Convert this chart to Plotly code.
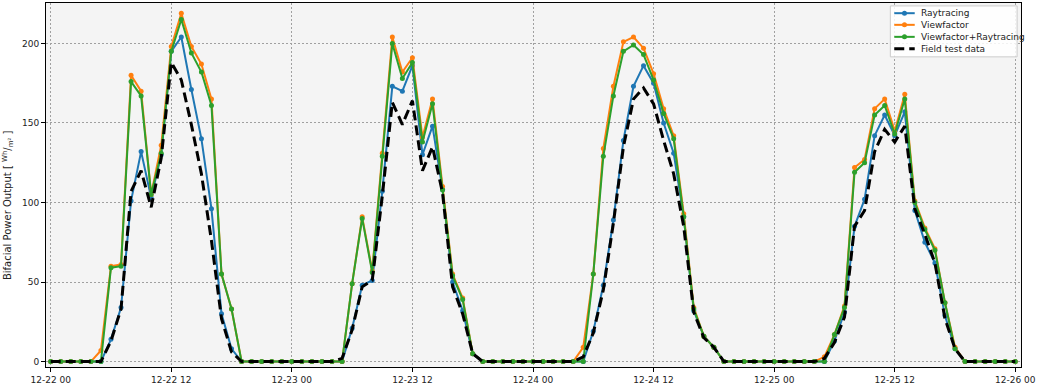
import pandas as pd
import plotly.graph_objects as go

times = pd.date_range("2022-12-22 00:00", "2022-12-26 00:00", freq="h")

Z5 = [0, 0, 0, 0, 0]
Z = [0, 0, 0, 0, 0]

raytracing = (
    Z5 + [0, 14, 34, 101, 132, 103, 130, 195, 204, 171, 140, 96, 30, 8] + Z
    + Z5 + [0, 21, 48, 51, 107, 173, 170, 186, 130, 148, 108, 50, 32, 5] + Z
    + Z5 + [0, 19, 48, 89, 139, 173, 186, 175, 150, 131, 91, 32, 16, 9] + Z
    + Z5 + [0, 13, 31, 85, 102, 142, 155, 142, 157, 95, 75, 62, 29, 8] + Z
    + [0]
)
viewfactor = (
    Z5 + [7, 60, 61, 180, 170, 105, 136, 198, 219, 198, 187, 165, 55, 33] + Z
    + Z5 + [0, 49, 91, 57, 131, 204, 182, 191, 141, 165, 110, 55, 40, 5] + Z
    + Z5 + [9, 55, 134, 173, 201, 204, 197, 181, 159, 142, 93, 34, 16, 9] + Z
    + Z5 + [3, 17, 35, 122, 127, 159, 165, 145, 168, 101, 84, 71, 37, 9] + Z
    + [0]
)
combined = (
    Z5 + [0, 59, 60, 176, 167, 105, 131, 195, 215, 194, 182, 161, 55, 33] + Z
    + Z5 + [0, 49, 90, 56, 129, 200, 178, 188, 138, 162, 108, 54, 39, 5] + Z
    + Z5 + [0, 55, 129, 167, 195, 199, 193, 177, 156, 140, 91, 33, 16, 9] + Z
    + Z5 + [0, 17, 34, 119, 125, 155, 161, 143, 165, 100, 83, 70, 37, 8] + Z
    + [0]
)
field = (
    Z5 + [0, 13, 33, 107, 120, 97, 128, 188, 177, 149, 118, 76, 27, 6] + Z
    + Z5 + [2, 20, 47, 51, 104, 163, 149, 164, 120, 135, 106, 47, 30, 5] + Z
    + Z5 + [3, 18, 45, 87, 135, 165, 172, 162, 139, 118, 85, 31, 15, 9] + Z
    + Z5 + [2, 12, 28, 85, 95, 132, 146, 138, 148, 96, 80, 62, 27, 8] + Z
    + [0]
)

names = ["Raytracing", "Viewfactor", "Viewfactor+Raytracing", "Field test data"]
colors = ["#1f77b4", "#ff7f0e", "#2ca02c", "black"]
y_title = "Bifacial Power Output [ <sup>Wh</sup>/<sub>m²</sub> ]"

fig = go.Figure()
for name, vals, col in zip(names[:3], [raytracing, viewfactor, combined], colors[:3]):
    fig.add_trace(go.Scatter(
        x=times, y=vals, name=name, mode="lines+markers",
        line=dict(color=col, width=2), marker=dict(color=col, size=5),
    ))
fig.add_trace(go.Scatter(
    x=times, y=field, name=names[3], mode="lines",
    line=dict(color="black", width=3, dash="10px,5px"),
))

font = dict(family="DejaVu Sans", size=9, color="#222")

# custom compact legend (matplotlib-like)
fig.add_shape(type="rect", xref="paper", yref="paper",
              x0=0.866, x1=0.996, y0=0.852, y1=0.992,
              fillcolor="rgba(255,255,255,0.85)", line=dict(color="#cccccc", width=1))
row_y = [0.972, 0.940, 0.907, 0.874]
for i, (name, col) in enumerate(zip(names, colors)):
    yy = row_y[i]
    if i < 3:
        fig.add_shape(type="line", xref="paper", yref="paper",
                      x0=0.870, x1=0.891, y0=yy, y1=yy,
                      line=dict(color=col, width=2))
        fig.add_shape(type="circle", xref="paper", yref="paper",
                      xsizemode="pixel", ysizemode="pixel",
                      xanchor=0.8805, yanchor=yy, x0=-2.5, x1=2.5, y0=-2.5, y1=2.5,
                      fillcolor=col, line=dict(color=col, width=0))
    else:
        fig.add_shape(type="line", xref="paper", yref="paper",
                      x0=0.870, x1=0.891, y0=yy, y1=yy,
                      line=dict(color=col, width=3, dash="10px,5px"))
    fig.add_annotation(x=0.8955, y=yy, xref="paper", yref="paper",
                       text=name, showarrow=False, xanchor="left", yanchor="middle",
                       font=dict(family="DejaVu Sans", size=9, color="#222"))

# y-axis title placed like matplotlib's
fig.add_annotation(x=-0.0389, y=0.445, xref="paper", yref="paper",
                   text=y_title, textangle=-90, showarrow=False,
                   xanchor="center", yanchor="middle",
                   font=dict(family="DejaVu Sans", size=10, color="#222"))

fig.update_layout(
    width=1038, height=387,
    margin=dict(l=46, r=14, t=2, b=19),
    paper_bgcolor="white", plot_bgcolor="#f4f4f4",
    font=font,
    showlegend=False,
)
fig.update_xaxes(
    range=["2022-12-21 23:32", "2022-12-26 00:34"],
    dtick=12 * 3600 * 1000, tick0="2022-12-22 00:00", tickformat="%m-%d %H",
    ticks="outside", ticklen=4, tickcolor="black",
    showline=True, linecolor="black", linewidth=1, mirror=True,
    showgrid=True, gridcolor="#a0a0a0", griddash="2px,2px", gridwidth=1,
    zeroline=False, tickfont=font, ticklabeloverflow="allow",
)
fig.update_yaxes(
    range=[-3.4, 225.4], tickvals=[0, 50, 100, 150, 200],
    ticks="outside", ticklen=4, tickcolor="black",
    showline=True, linecolor="black", linewidth=1, mirror=True,
    showgrid=True, gridcolor="#a0a0a0", griddash="2px,2px", gridwidth=1,
    zeroline=False, tickfont=font,
)
fig.write_html("out.html", config={"displayModeBar": False},
               post_script="document.body.style.margin='0';")
